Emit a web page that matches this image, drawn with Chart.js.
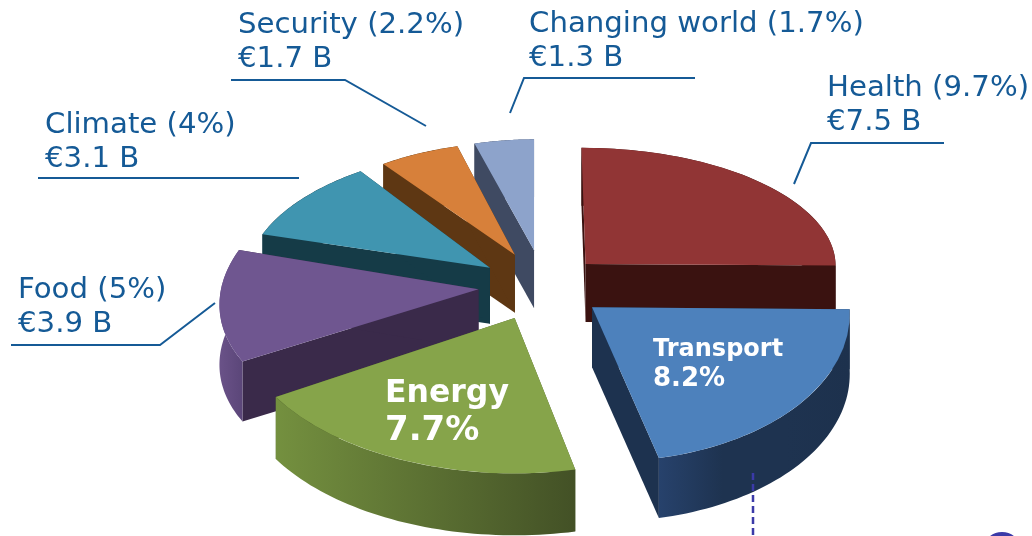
<!DOCTYPE html>
<html>
<head>
<meta charset="utf-8">
<style>
  html, body { margin: 0; padding: 0; background: #fff; overflow: hidden; }
  #wrap { width: 1032px; height: 536px; position: relative; }
</style>
<script src="https://cdn.jsdelivr.net/npm/chart.js"></script>
</head>
<body>
<div id="wrap"><canvas id="chart" width="1032" height="536"></canvas></div>
<script>
// data
const categories = ['Health', 'Transport', 'Energy', 'Food', 'Climate', 'Security', 'Changing world'];
const percents = [9.7, 8.2, 7.7, 5, 4, 2.2, 1.7];
const amounts = ['7.5', null, null, '3.9', '3.1', '1.7', '1.3'];

// styling per slice
const topColors = ['#913535', '#4d81bc', '#86a44a', '#6f5690', '#4095b0', '#d7803a', '#8da3cb'];
const wallColors = ['#3a1210', '#1d324f', '#4d5f2a', '#3a2a4a', '#153b47', '#5e3713', '#3f4a62'];
const rimColors = [
  ['#3a1210', '#3a1210'],
  ['#27426c', '#1e3350', '#1e3350', '#1d314d'],
  ['#74903f', '#435126'],
  ['#6a5288', '#5b4679'],
  ['#153b47', '#153b47'],
  ['#5e3713', '#5e3713'],
  ['#3f4a62', '#3f4a62']
];
// the original picture has perspective, fake it per slice with scale, tilt and shear
const radiusScale = [1, 1.03, 1.11, 1.03, 0.968, 0.914, 0.87];
const tilt = [0.465, 0.6, 0.56, 0.55, 0.496, 0.494, 0.51];
const shear = [0.035, 0.07, 0, -0.2, -0.15, -0.047, 0];
const explode = [64, 67, 64, 62, 61, 57, 43];
const lift = [0, -3, 0, 0, 0, -5, -13];
const depth = [58, 60, 62, 60, 56, 58, 58];

const labelColor = '#155a96';
const labelFont = '29.2px "DejaVu Sans"';
const outerLabels = [
  { i: 0, x: 827, y: 96 },
  { i: 3, x: 18, y: 298 },
  { i: 4, x: 45, y: 133 },
  { i: 5, x: 238, y: 33 },
  { i: 6, x: 529, y: 32 }
];
const innerLabels = [
  { i: 1, x: 653, y: 356, font: 'bold 24px "DejaVu Sans"', font2: 'bold 26px "DejaVu Sans"', gap: 30 },
  { i: 2, x: 385, y: 402, font: 'bold 31.5px "DejaVu Sans"', font2: 'bold 34px "DejaVu Sans"', gap: 38 }
];
const leaders = [
  [[794, 184], [811, 143], [944, 143]],
  [[11, 345], [160, 345], [215, 303]],
  [[38, 178], [299, 178]],
  [[231, 80], [345, 80], [426, 126]],
  [[510, 113], [524, 78], [695, 78]]
];

function drawSlice(ctx, el, i) {
  const s = radiusScale[i], k = tilt[i], R = el.outerRadius * s, h = depth[i];
  const a0 = el.startAngle, a1 = el.endAngle, mid = (a0 + a1) / 2;
  const cx = el.x + Math.cos(mid) * explode[i];
  const cy = el.y + Math.sin(mid) * explode[i] * k + lift[i];
  const pt = a => [
    cx + Math.cos(a) * R + shear[i] * Math.sin(a) * R * k,
    cy + Math.sin(a) * R * k
  ];

  // side walls first, the top face covers whatever is behind it
  ctx.fillStyle = wallColors[i];
  [a0, a1].forEach(a => {
    const p = pt(a);
    ctx.beginPath();
    ctx.moveTo(cx, cy);
    ctx.lineTo(p[0], p[1]);
    ctx.lineTo(p[0], p[1] + h);
    ctx.lineTo(cx, cy + h);
    ctx.closePath();
    ctx.fill();
  });

  const steps = 48;
  const rim = [];
  for (let n = 0; n <= steps; n++) rim.push(pt(a0 + (a1 - a0) * n / steps));
  const xs = rim.map(p => p[0]);
  const grad = ctx.createLinearGradient(Math.min(...xs), 0, Math.max(...xs), 0);
  rimColors[i].forEach((c, n) => grad.addColorStop(n / (rimColors[i].length - 1), c));
  ctx.fillStyle = grad;
  ctx.beginPath();
  rim.forEach((p, n) => n ? ctx.lineTo(p[0], p[1]) : ctx.moveTo(p[0], p[1]));
  rim.slice().reverse().forEach(p => ctx.lineTo(p[0], p[1] + h));
  ctx.closePath();
  ctx.fill();

  // top face is the library's own arc, squashed into place
  ctx.save();
  ctx.translate(cx, cy);
  ctx.transform(1, 0, shear[i], 1, 0, 0);
  ctx.scale(s, s * k);
  ctx.translate(-el.x, -el.y);
  el.draw(ctx);
  ctx.restore();
}

const pie3d = {
  id: 'pie3d',
  beforeDatasetsDraw(chart) {
    const ctx = chart.ctx;
    const arcs = chart.getDatasetMeta(0).data;
    const order = arcs.map((el, i) => i);
    const apexY = i => Math.sin((arcs[i].startAngle + arcs[i].endAngle) / 2);
    order.sort((a, b) => apexY(a) - apexY(b));
    order.forEach(i => drawSlice(ctx, arcs[i], i));
    return false;
  },
  afterDraw(chart) {
    const ctx = chart.ctx;
    ctx.save();
    ctx.textBaseline = 'alphabetic';
    ctx.textAlign = 'left';

    ctx.strokeStyle = labelColor;
    ctx.lineWidth = 2;
    leaders.forEach(line => {
      ctx.beginPath();
      line.forEach((p, n) => n ? ctx.lineTo(p[0], p[1]) : ctx.moveTo(p[0], p[1]));
      ctx.stroke();
    });

    ctx.fillStyle = labelColor;
    ctx.font = labelFont;
    outerLabels.forEach(l => {
      ctx.fillText(categories[l.i] + ' (' + percents[l.i] + '%)', l.x, l.y);
      ctx.fillText('€' + amounts[l.i] + ' B', l.x, l.y + 34);
    });

    ctx.fillStyle = '#fff';
    innerLabels.forEach(l => {
      ctx.font = l.font;
      ctx.fillText(categories[l.i], l.x, l.y);
      ctx.font = l.font2;
      ctx.fillText(percents[l.i] + '%', l.x, l.y + l.gap);
    });

    // bits of the surrounding slide
    ctx.strokeStyle = '#3b3aa8';
    ctx.lineWidth = 2.5;
    ctx.setLineDash([7, 4]);
    ctx.beginPath();
    ctx.moveTo(753, 473);
    ctx.lineTo(753, 536);
    ctx.stroke();
    ctx.fillStyle = '#3b3aa8';
    ctx.beginPath();
    ctx.ellipse(1002, 546, 17, 14, 0, 0, Math.PI * 2);
    ctx.fill();
    ctx.restore();
  }
};

new Chart(document.getElementById('chart'), {
  type: 'pie',
  data: {
    labels: categories,
    datasets: [{
      data: percents,
      backgroundColor: topColors,
      borderWidth: 0,
      radius: 250
    }]
  },
  options: {
    responsive: false,
    animation: false,
    events: [],
    radius: 250,
    layout: { padding: { left: 48, top: 34 } },
    plugins: { legend: { display: false }, tooltip: { enabled: false } }
  },
  plugins: [pie3d]
});
</script>
</body>
</html>
